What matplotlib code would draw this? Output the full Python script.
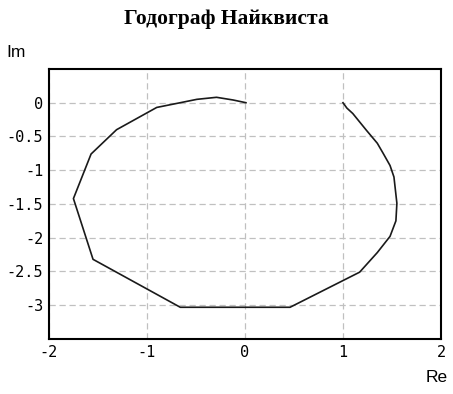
import matplotlib
matplotlib.use("Agg")
import matplotlib.pyplot as plt

# точки годографа (Re, Im)
re_vals = [1.00, 1.04, 1.10, 1.24, 1.35, 1.41, 1.48, 1.52, 1.55, 1.54, 1.48, 1.35, 1.17, 0.46,
           -0.66, -1.55, -1.75, -1.57, -1.31, -0.90, -0.66, -0.49, -0.29, -0.12, 0.01]
im_vals = [0.00, -0.08, -0.16, -0.41, -0.60, -0.75, -0.93, -1.10, -1.49, -1.75, -1.98, -2.22, -2.51,
           -3.03, -3.03, -2.32, -1.42, -0.76, -0.40, -0.07, 0.00, 0.05, 0.08, 0.04, 0.00]

xticks = [-2, -1, 0, 1, 2]
yticks = [0, -0.5, -1, -1.5, -2, -2.5, -3]
ytick_labels = ['0', '-0.5', '-1', '-1.5', '-2', '-2.5', '-3']

fig = plt.figure(figsize=(4.53, 3.94), dpi=100)
ax = fig.add_axes([0.108, 0.1396, 0.8655, 0.6854])

ax.plot(re_vals, im_vals, color='#1a1a1a', linewidth=1.2)

ax.set_xlim(-2, 2)
ax.set_ylim(-3.5, 0.5)
ax.set_xticks(xticks)
ax.set_xticklabels([str(t) for t in xticks])
ax.set_yticks(yticks)
ax.set_yticklabels(ytick_labels)
ax.tick_params(length=0, pad=4, labelsize=11)
for lab in ax.get_xticklabels() + ax.get_yticklabels():
    lab.set_family('DejaVu Sans Mono')
ax.grid(True, color='#c0c0c0', linestyle=(0, (5, 3)), linewidth=0.9)
for s in ax.spines.values():
    s.set_linewidth(1.5)

fig.text(0.5, 0.953, 'Годограф Найквиста', ha='center', va='center',
         family='Liberation Serif', fontweight='bold', fontsize=15.5)
fig.text(0.015, 0.866, 'Im', ha='left', va='center', family='Liberation Sans', fontsize=12.5)
fig.text(0.988, 0.043, 'Re', ha='right', va='center', family='Liberation Sans', fontsize=12.5)

fig.savefig('out.png', dpi=100)
